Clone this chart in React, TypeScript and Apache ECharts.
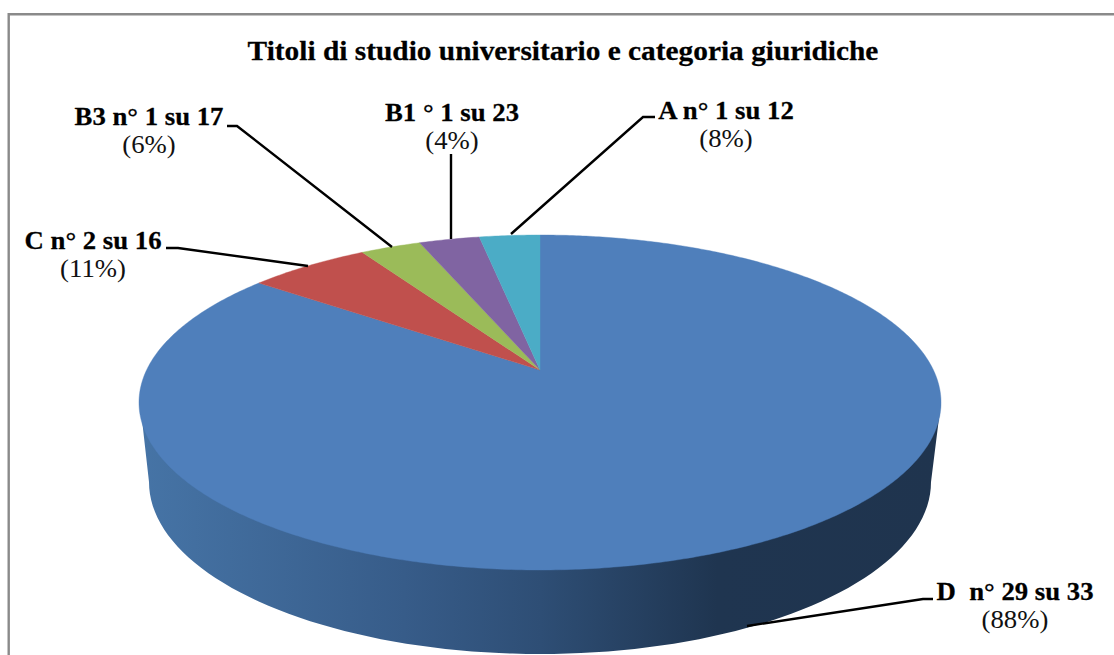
import React, { useEffect, useRef } from "react";
import * as echarts from "echarts";

const titleText = "Titoli di studio universitario e categoria giuridiche";
const categories = ["D  n° 29 su 33", "C n° 2 su 16", "B3 n° 1 su 17", "B1 ° 1 su 23", "A n° 1 su 12"];
const percentLabels = ["(88%)", "(11%)", "(6%)", "(4%)", "(8%)"];
const sliceValues = [29, 2, 1, 1, 1];
const sliceColors = ["#4F7FBB", "#C0504D", "#9BBB59", "#8064A2", "#4BACC6"];

// Layout (not data): label centres and leader lines
const labelCentres = [[1015, 592, 620], [93, 241, 269], [149, 117, 145], [452, 113, 141], [726, 111, 139]];
const leaderLines = [
  [[747, 626], [923, 599], [933, 599]],
  [[166, 248], [178, 248], [308, 266]],
  [[227, 126], [237, 126], [392, 247]],
  [[451, 154], [451, 239]],
  [[511, 234], [643, 117], [655, 117]],
];

const FONT = '"Liberation Serif", "Times New Roman", serif';
const CX = 540, APEX_Y = 370, D = 393.4, BY = -89.4, C = 0.194;

function rim(theta: number): number[] {
  const u = Math.sin(theta), v = Math.cos(theta), w = 1 + C * v;
  return [CX + (D * u) / w, (APEX_Y + BY * v) / w];
}

function sidePoints(): number[][] {
  const pts: number[][] = [[140, 402]];
  for (let a = 180; a >= 0; a -= 2) {
    const r = (a * Math.PI) / 180;
    pts.push([CX + 391 * Math.cos(r), 482 + 172 * Math.sin(r)]);
  }
  pts.push([941, 402]);
  return pts;
}

const total = sliceValues.reduce((a, b) => a + b, 0);

function renderSlice(params: any, api: any) {
  const idx = params.dataIndex;
  let before = 0;
  for (let i = 0; i < idx; i++) before += sliceValues[i];
  // Clockwise from the top: D, C, B3, B1, A
  const start = (before / total) * Math.PI * 2;
  const end = ((before + api.value(0)) / total) * Math.PI * 2;
  const pts: number[][] = [[CX, APEX_Y]];
  const n = Math.max(4, Math.ceil((end - start) / 0.01));
  for (let i = 0; i <= n; i++) pts.push(rim(start + ((end - start) * i) / n));
  const children: any[] = [];
  if (idx === 0) {
    children.push({
      type: "polygon",
      shape: { points: sidePoints() },
      style: {
        fill: new echarts.graphic.LinearGradient(0, 0, 1, 0, [
          { offset: 0, color: "#4674A6" },
          { offset: 0.33, color: "#375C89" },
          { offset: 0.5, color: "#2E4E75" },
          { offset: 0.72, color: "#1F3550" },
          { offset: 1, color: "#1F344E" },
        ]),
      },
    });
  }
  children.push({
    type: "polygon",
    shape: { points: pts },
    style: { fill: api.visual("color"), stroke: api.visual("color"), lineWidth: 0.4 },
  });
  return { type: "group", children };
}

export default function App() {
  const ref = useRef<HTMLDivElement>(null);
  useEffect(() => {
    document.body.style.margin = "0";
    const chart = echarts.init(ref.current!, undefined, { renderer: "svg" });
    const graphics: any[] = [
      {
        type: "polyline",
        shape: { points: [[8.7, 655], [8.7, 14.3], [1114, 14.3]] },
        style: { stroke: "#8A8A8A", lineWidth: 2.4, fill: "none" },
      },
      {
        type: "text",
        z: 11,
        x: 563,
        y: 51,
        scaleX: 1.088,
        style: {
          text: titleText,
          align: "center",
          verticalAlign: "middle",
          font: `bold 27px ${FONT}`,
          fill: "#000",
          stroke: "#000",
          lineWidth: 0.25,
        },
      },
    ];
    leaderLines.forEach((pts) =>
      graphics.push({
        type: "polyline",
        z: 10,
        shape: { points: pts },
        style: { stroke: "#000", lineWidth: 2.4, fill: "none" },
      })
    );
    categories.forEach((name, i) => {
      const [x, y1, y2] = labelCentres[i];
      graphics.push({
        type: "text",
        z: 11,
        x,
        y: y1,
        scaleX: 1.07,
        style: {
          text: name,
          align: "center",
          verticalAlign: "middle",
          font: `bold 25px ${FONT}`,
          fill: "#000",
          stroke: "#000",
          lineWidth: 0.25,
        },
      });
      graphics.push({
        type: "text",
        z: 11,
        x,
        y: y2,
        scaleX: 1.07,
        style: { text: percentLabels[i], align: "center", verticalAlign: "middle", font: `25px ${FONT}`, fill: "#111" },
      });
    });
    chart.setOption({
      animation: false,
      backgroundColor: "#fff",
      graphic: graphics,
      series: [
        {
          type: "custom",
          coordinateSystem: "none",
          renderItem: renderSlice,
          data: sliceValues.map((v, i) => ({ name: categories[i], value: [v], itemStyle: { color: sliceColors[i] } })),
        },
      ],
    });
    return () => chart.dispose();
  }, []);
  return <div ref={ref} style={{ width: 1114, height: 655 }} />;
}
